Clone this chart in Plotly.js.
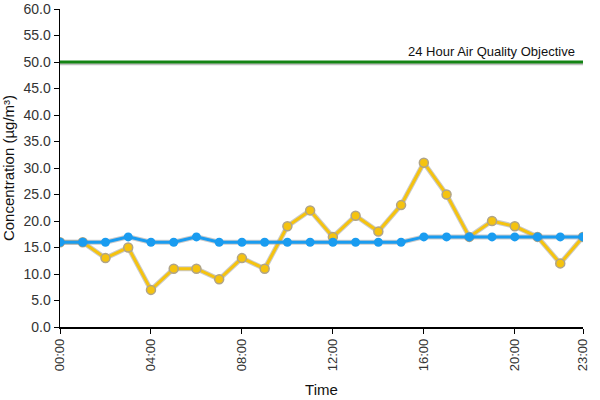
<!DOCTYPE html>
<html><head><meta charset="utf-8">
<script src="https://cdn.plot.ly/plotly-3.0.1.min.js"></script>
<style>html,body{margin:0;padding:0;background:#fff}#chart{width:600px;height:400px}</style>
</head><body><div id="chart"></div>
<script>
const hours = ["00:00","01:00","02:00","03:00","04:00","05:00","06:00","07:00","08:00","09:00","10:00","11:00","12:00","13:00","14:00","15:00","16:00","17:00","18:00","19:00","20:00","21:00","22:00","23:00"];
const siteA = [16,16,13,15,7,11,11,9,13,11,19,22,17,21,18,23,31,25,17,20,19,17,12,17];
const siteB = [16,16,16,17,16,16,17,16,16,16,16,16,16,16,16,16,17,17,17,17,17,17,17,17];
const objectiveValue = 50;
const objectiveLabel = "24 Hour Air Quality Objective";
const tickLabels = ["00:00","04:00","08:00","12:00","16:00","20:00","23:00"];
const yTicks = [0,5,10,15,20,25,30,35,40,45,50,55,60];

const objX = [hours[0], hours[hours.length-1]];
const objY = [objectiveValue, objectiveValue];

const traces = [
  {x: hours, y: siteA, mode:'lines', line:{color:'rgba(150,150,150,0.5)', width:5}, hoverinfo:'skip'},
  {x: hours, y: siteA, mode:'lines+markers', line:{color:'#f5c30f', width:3},
   marker:{color:'#f5c30f', size:9, line:{color:'#b0a488', width:1.5}}},
  {x: hours, y: siteB, mode:'lines', line:{color:'rgba(150,150,150,0.5)', width:5}, hoverinfo:'skip'},
  {x: hours, y: siteB, mode:'lines+markers', line:{color:'#1a9cf0', width:3},
   marker:{color:'#1a9cf0', size:9}},
  {x: objX, y: objY.map(v=>v-0.35), mode:'lines', line:{color:'rgba(150,150,150,0.6)', width:3}, hoverinfo:'skip'},
  {x: objX, y: objY, mode:'lines', line:{color:'#148414', width:3}}
];

const layout = {
  width:600, height:400, showlegend:false,
  paper_bgcolor:'#fff', plot_bgcolor:'#fff',
  margin:{l:60, r:17, t:9, b:73},
  font:{family:'Liberation Sans, Arial, sans-serif', color:'#222', size:13},
  xaxis:{type:'category', categoryorder:'array', categoryarray:hours, range:[0,23],
    tickmode:'array', tickvals:tickLabels, ticktext:tickLabels,
    tickangle:-90, showgrid:false, zeroline:false, showline:true, linecolor:'#000', linewidth:1.5,
    ticks:'outside', ticklen:5, tickcolor:'#000', tickfont:{size:13, color:'#333'},
    title:{text:'Time', font:{size:15, color:'#111'}, standoff:14}},
  yaxis:{range:[0,60], tickmode:'array', tickvals:yTicks, ticklabeloverflow:'allow',
    tickformat:'.1f', showgrid:false, zeroline:false, showline:true,
    linecolor:'#000', linewidth:1.5, ticks:'outside', ticklen:5, tickcolor:'#000',
    tickfont:{size:14, color:'#333'},
    title:{text:'Concentration (µg/m³)', font:{size:15, color:'#111'}, standoff:8}},
  annotations:[{x:hours[hours.length-1], y:objectiveValue, xref:'x', yref:'y', text:objectiveLabel,
    showarrow:false, xanchor:'right', yanchor:'bottom', xshift:-6, yshift:1,
    font:{size:13, color:'#111'}}]
};
Plotly.newPlot('chart', traces, layout, {displayModeBar:false, staticPlot:true});
</script></body></html>
